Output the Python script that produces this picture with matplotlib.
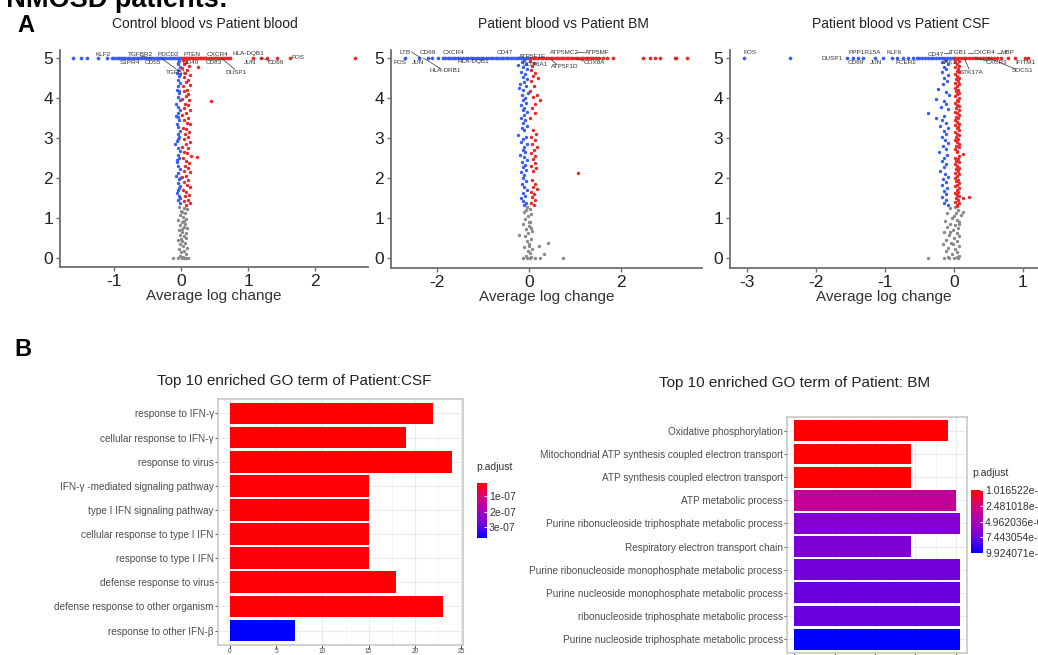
import numpy as np
import matplotlib.pyplot as plt
from matplotlib.colors import LinearSegmentedColormap, Normalize
from matplotlib.cm import ScalarMappable

plt.rcParams['font.family'] = ['Liberation Sans', 'DejaVu Sans']
plt.rcParams['axes.unicode_minus'] = False

# ---------------- data: volcano plots (avg log change, -log10 p capped at 5) ----------------
CAP = 5.0

# Control blood vs Patient blood
a1_blue = [(-0.03, 4.93), (-0.05, 4.85), (-0.02, 4.78), (-0.04, 4.70), (-0.06, 4.62), (-0.03, 4.55),
           (-0.05, 4.46), (-0.02, 4.38), (-0.04, 4.30), (-0.06, 4.21), (-0.03, 4.12), (-0.05, 4.03),
           (-0.02, 3.95), (-0.07, 3.86), (-0.04, 3.78), (-0.07, 3.55), (-0.05, 3.52), (-0.03, 3.44),
           (-0.06, 3.35), (-0.04, 3.27), (-0.02, 3.18), (-0.05, 3.10), (-0.03, 3.02), (-0.09, 2.86),
           (-0.06, 2.93), (-0.04, 2.76), (-0.02, 2.67), (-0.05, 2.58), (-0.03, 2.49), (-0.06, 2.40),
           (-0.04, 2.31), (-0.02, 2.22), (-0.05, 2.13), (-0.07, 2.05), (-0.03, 1.97), (-0.05, 1.88),
           (-0.02, 1.80), (-0.04, 1.71), (-0.06, 1.62), (-0.03, 1.54), (-0.05, 1.46), (-0.02, 1.38),
           (-0.01, 4.60), (-0.01, 3.70), (-0.02, 2.00), (-0.04, 4.88), (-0.03, 4.18), (-0.05, 3.62),
           (-0.04, 2.98), (-0.06, 2.45), (-0.03, 1.75), (-0.02, 1.50)]
a1_red = [(0.03, 4.95), (0.08, 4.90), (0.05, 4.84), (0.12, 4.80), (0.02, 4.75), (0.09, 4.71),
          (0.06, 4.63), (0.13, 4.58), (0.04, 4.53), (0.10, 4.45), (0.07, 4.41), (0.14, 4.33),
          (0.03, 4.29), (0.09, 4.21), (0.05, 4.17), (0.11, 4.09), (0.08, 4.05), (0.02, 3.97),
          (0.12, 3.94), (0.06, 3.86), (0.10, 3.82), (0.04, 3.74), (0.13, 3.70), (0.07, 3.62),
          (0.02, 3.58), (0.11, 3.50), (0.05, 3.46), (0.09, 3.38), (0.14, 3.34), (0.03, 3.26),
          (0.08, 3.22), (0.12, 3.14), (0.06, 3.10), (0.10, 3.02), (0.04, 2.98), (0.13, 2.90),
          (0.07, 2.86), (0.02, 2.78), (0.11, 2.74), (0.05, 2.66), (0.09, 2.62), (0.15, 2.54),
          (0.03, 2.50), (0.08, 2.42), (0.12, 2.38), (0.06, 2.30), (0.10, 2.26), (0.04, 2.18),
          (0.13, 2.14), (0.07, 2.06), (0.02, 2.02), (0.11, 1.94), (0.05, 1.90), (0.09, 1.82),
          (0.14, 1.78), (0.03, 1.70), (0.08, 1.66), (0.12, 1.58), (0.06, 1.54), (0.10, 1.46),
          (0.04, 1.42), (0.13, 1.37), (0.07, 1.33), (0.25, 4.77), (0.45, 3.92), (0.24, 2.52)]
a1_grey = [(-0.03, 1.28), (0.05, 1.25), (0.09, 1.22), (0.00, 1.18), (0.06, 1.12), (-0.02, 1.08),
           (0.03, 1.03), (0.08, 0.98), (-0.04, 0.94), (0.02, 0.90), (0.06, 0.86), (-0.01, 0.82),
           (0.04, 0.78), (0.09, 0.74), (-0.03, 0.70), (0.01, 0.66), (0.07, 0.62), (-0.02, 0.58),
           (0.04, 0.54), (0.08, 0.50), (-0.04, 0.46), (0.02, 0.42), (0.06, 0.38), (-0.01, 0.34),
           (0.03, 0.30), (0.09, 0.26), (-0.03, 0.22), (0.05, 0.18), (0.00, 0.14), (0.07, 0.10),
           (-0.02, 0.06), (0.03, 0.03), (0.08, 0.01), (-0.04, 0.00), (0.01, 0.00), (0.05, 0.00),
           (0.10, 0.00), (-0.12, 0.00), (0.02, 0.72), (0.00, 0.48), (0.05, 0.92), (0.01, 1.15)]
a1_blue_top = [-1.61, -1.50, -1.40, -1.24, -1.10, -1.03, -1.00, -0.96, -0.93, -0.90, -0.86, -0.83,
               -0.79, -0.76, -0.72, -0.69, -0.66, -0.62, -0.59, -0.55, -0.52, -0.48, -0.45, -0.42,
               -0.38, -0.35, -0.32, -0.28, -0.25, -0.22, -0.18, -0.15, -0.12, -0.09, -0.06, -0.04, -0.02]
a1_red_top = [0.02, 0.04, 0.07, 0.09, 0.12, 0.14, 0.17, 0.20, 0.22, 0.25, 0.28, 0.30, 0.33, 0.36,
              0.38, 0.41, 0.44, 0.47, 0.50, 0.52, 0.55, 0.58, 0.61, 0.64, 0.67, 0.70, 0.73,
              1.08, 1.20, 1.28, 1.43, 1.62, 2.60]

# Patient blood vs Patient BM
a2_blue = [(-0.10, 4.95), (-0.16, 4.90), (-0.06, 4.86), (-0.24, 4.83), (-0.12, 4.78), (-0.04, 4.72),
           (-0.18, 4.66), (-0.09, 4.60), (-0.14, 4.53), (-0.05, 4.47), (-0.11, 4.41), (-0.20, 4.35),
           (-0.07, 4.30), (-0.22, 4.25), (-0.13, 4.19), (-0.03, 4.13), (-0.16, 4.07), (-0.09, 4.01),
           (-0.12, 3.95), (-0.06, 3.88), (-0.18, 3.82), (-0.10, 3.76), (-0.14, 3.70), (-0.04, 3.64),
           (-0.11, 3.57), (-0.17, 3.50), (-0.08, 3.44), (-0.13, 3.38), (-0.05, 3.31), (-0.15, 3.25),
           (-0.10, 3.19), (-0.24, 3.08), (-0.07, 3.03), (-0.12, 2.97), (-0.17, 2.90), (-0.04, 2.84),
           (-0.10, 2.78), (-0.14, 2.71), (-0.08, 2.65), (-0.19, 2.58), (-0.11, 2.52), (-0.05, 2.46),
           (-0.15, 2.40), (-0.09, 2.33), (-0.13, 2.27), (-0.06, 2.20), (-0.17, 2.14), (-0.10, 2.07),
           (-0.12, 2.00), (-0.07, 1.93), (-0.16, 1.85), (-0.11, 1.77), (-0.05, 1.70), (-0.14, 1.63),
           (-0.09, 1.56), (-0.18, 1.50), (-0.12, 1.43), (-0.06, 1.37), (-0.10, 1.32)]
a2_red = [(0.03, 4.93), (0.10, 4.88), (0.06, 4.80), (0.20, 4.50), (0.13, 4.62), (0.04, 4.70),
          (0.08, 4.55), (0.17, 4.08), (0.24, 3.95), (0.05, 4.42), (0.11, 4.30), (0.03, 4.18),
          (0.09, 4.02), (0.14, 3.86), (0.06, 3.75), (0.12, 3.62), (0.03, 3.50), (0.08, 3.20),
          (0.15, 3.10), (0.05, 3.02), (0.12, 2.95), (0.07, 2.85), (0.17, 2.78), (0.10, 2.70),
          (0.04, 2.62), (0.14, 2.55), (0.08, 2.47), (0.12, 2.38), (0.05, 2.30), (0.16, 2.25),
          (0.09, 2.18), (1.07, 2.12), (0.06, 1.95), (0.13, 1.85), (0.09, 1.78), (0.17, 1.72),
          (0.04, 1.66), (0.11, 1.60), (0.07, 1.52), (0.14, 1.45), (0.05, 1.38), (0.10, 1.33)]
a2_grey = [(-0.05, 1.28), (0.02, 1.22), (-0.10, 1.16), (0.05, 1.10), (-0.03, 1.04), (-0.08, 0.97),
           (0.03, 0.91), (-0.12, 0.85), (0.00, 0.79), (-0.06, 0.73), (0.06, 0.67), (-0.02, 0.62),
           (-0.22, 0.58), (-0.09, 0.54), (0.04, 0.48), (-0.04, 0.42), (0.41, 0.37), (0.01, 0.36),
           (0.22, 0.30), (-0.11, 0.28), (0.07, 0.22), (-0.03, 0.17), (0.33, 0.10), (0.02, 0.12),
           (-0.07, 0.06), (0.05, 0.03), (-0.14, 0.00), (-0.05, 0.00), (0.03, 0.00), (0.12, 0.00),
           (0.24, 0.00), (0.74, 0.00), (0.00, 0.90), (-0.07, 1.20), (-0.01, 0.30), (0.04, 0.75)]
a2_blue_top = [-2.70, -2.40, -2.20, -2.10, -1.98, -1.87, -1.82, -1.77, -1.71, -1.66, -1.60, -1.55,
               -1.49, -1.44, -1.38, -1.33, -1.27, -1.22, -1.16, -1.11, -1.05, -1.00, -0.94, -0.89,
               -0.83, -0.78, -0.72, -0.67, -0.61, -0.56, -0.50, -0.45, -0.39, -0.34, -0.28, -0.23,
               -0.17, -0.12, -0.06, -0.02]
a2_red_top = [0.03, 0.08, 0.14, 0.19, 0.25, 0.30, 0.36, 0.41, 0.47, 0.52, 0.58, 0.63, 0.69, 0.74,
              0.80, 0.85, 0.91, 0.96, 1.02, 1.07, 1.13, 1.18, 1.24, 1.29, 1.35, 1.40, 1.46, 1.52,
              1.60, 1.70, 1.83, 2.48, 2.63, 2.74, 2.85, 3.17, 3.20, 3.43]

# Patient blood vs Patient CSF
a3_blue = [(-0.12, 4.95), (-0.18, 4.90), (-0.09, 4.85), (-0.15, 4.78), (-0.11, 4.72), (-0.17, 4.65),
           (-0.08, 4.58), (-0.14, 4.50), (-0.10, 4.43), (-0.16, 4.36), (-0.23, 4.22), (-0.12, 4.15),
           (-0.07, 4.08), (-0.26, 3.98), (-0.15, 3.92), (-0.11, 3.85), (-0.19, 3.78), (-0.09, 3.72),
           (-0.38, 3.62), (-0.14, 3.56), (-0.26, 3.50), (-0.17, 3.44), (-0.12, 3.37), (-0.20, 3.30),
           (-0.08, 3.24), (-0.15, 3.17), (-0.11, 3.10), (-0.18, 3.03), (-0.13, 2.95), (-0.09, 2.88),
           (-0.16, 2.80), (-0.12, 2.72), (-0.21, 2.65), (-0.10, 2.58), (-0.15, 2.50), (-0.18, 2.42),
           (-0.11, 2.35), (-0.14, 2.27), (-0.20, 2.18), (-0.13, 2.10), (-0.08, 2.03), (-0.16, 1.97),
           (-0.12, 1.90), (-0.18, 1.82), (-0.10, 1.75), (-0.15, 1.67), (-0.12, 1.60), (-0.17, 1.52),
           (-0.11, 1.45), (-0.14, 1.38), (-0.09, 1.32)]
a3_red = [(0.03, 4.97), (0.07, 4.93), (0.01, 4.89), (0.05, 4.85), (0.08, 4.81), (0.02, 4.77),
          (0.06, 4.72), (0.04, 4.68), (0.08, 4.64), (0.01, 4.60), (0.05, 4.55), (0.07, 4.51),
          (0.03, 4.47), (0.06, 4.43), (0.02, 4.38), (0.08, 4.34), (0.04, 4.30), (0.01, 4.26),
          (0.06, 4.21), (0.03, 4.17), (0.07, 4.13), (0.05, 4.09), (0.02, 4.04), (0.08, 4.00),
          (0.04, 3.96), (0.06, 3.92), (0.01, 3.87), (0.05, 3.83), (0.07, 3.79), (0.03, 3.75),
          (0.08, 3.70), (0.02, 3.66), (0.05, 3.62), (0.07, 3.58), (0.03, 3.53), (0.06, 3.49),
          (0.01, 3.45), (0.04, 3.41), (0.08, 3.36), (0.02, 3.32), (0.06, 3.28), (0.04, 3.24),
          (0.07, 3.19), (0.01, 3.15), (0.05, 3.11), (0.08, 3.07), (0.03, 3.02), (0.06, 2.98),
          (0.02, 2.94), (0.05, 2.90), (0.07, 2.85), (0.03, 2.81), (0.08, 2.77), (0.01, 2.73),
          (0.05, 2.68), (0.04, 2.64), (0.13, 2.60), (0.07, 2.56), (0.02, 2.51), (0.06, 2.47),
          (0.03, 2.43), (0.08, 2.39), (0.01, 2.34), (0.05, 2.30), (0.07, 2.26), (0.03, 2.22),
          (0.06, 2.17), (0.02, 2.13), (0.08, 2.09), (0.04, 2.05), (0.01, 2.00), (0.06, 1.96),
          (0.03, 1.92), (0.07, 1.88), (0.05, 1.83), (0.02, 1.79), (0.08, 1.75), (0.04, 1.71),
          (0.06, 1.66), (0.01, 1.62), (0.05, 1.58), (0.07, 1.54), (0.13, 1.50), (0.22, 1.52),
          (0.03, 1.49), (0.06, 1.45), (0.02, 1.41), (0.08, 1.37), (0.04, 1.33), (0.05, 1.30)]
a3_grey = [(0.02, 1.28), (-0.05, 1.24), (0.06, 1.20), (0.13, 1.15), (0.10, 1.08), (-0.10, 1.12),
           (0.00, 1.06), (-0.03, 1.00), (0.05, 0.96), (-0.13, 0.93), (0.08, 0.90), (-0.06, 0.86),
           (0.02, 0.82), (-0.10, 0.78), (0.06, 0.74), (-0.02, 0.70), (-0.14, 0.66), (0.04, 0.62),
           (-0.07, 0.58), (0.08, 0.54), (0.00, 0.50), (-0.11, 0.46), (0.05, 0.42), (-0.04, 0.38),
           (-0.16, 0.34), (0.07, 0.30), (-0.08, 0.26), (0.02, 0.22), (-0.12, 0.18), (0.05, 0.14),
           (-0.03, 0.10), (0.08, 0.06), (-0.09, 0.03), (-0.15, 0.00), (-0.07, 0.00), (0.00, 0.00),
           (0.06, 0.00), (-0.38, 0.00), (0.03, 1.12), (-0.01, 0.35), (0.04, 0.02), (-0.05, 0.64),
           (0.07, 0.84)]
a3_blue_top = [-3.05, -2.38, -1.55, -1.46, -1.39, -1.32, -1.14, -1.03, -0.90, -0.83, -0.74, -0.67,
               -0.60, -0.54, -0.50, -0.46, -0.42, -0.38, -0.34, -0.30, -0.26, -0.22, -0.18, -0.14,
               -0.10, -0.06, -0.02]
a3_red_top = [0.02, 0.06, 0.10, 0.14, 0.18, 0.22, 0.26, 0.30, 0.34, 0.38, 0.42, 0.46, 0.50, 0.54,
              0.58, 0.62, 0.69, 0.78, 0.88, 1.03, 1.07]

# gene labels (repelled text positions in data units)
a1_labels = [("KLF2", -1.16, 5.10), ("TGFBR2", -0.60, 5.10), ("PDCD2", -0.19, 5.10),
             ("PTEN", 0.16, 5.10), ("CXCR4", 0.54, 5.10), ("HLA-DQB1", 1.01, 5.10),
             ("FOS", 1.75, 5.02), ("S1PR4", -0.76, 4.90), ("CD55", -0.42, 4.88),
             ("CD40", 0.15, 4.88), ("CD83", 0.49, 4.88), ("JUN", 1.03, 4.88),
             ("CD69", 1.42, 4.88), ("TGFB1", -0.07, 4.65), ("DUSP1", 0.82, 4.65)]
a2_labels = [("LTB", -2.70, 5.15), ("CD69", -2.20, 5.15), ("CXCR4", -1.65, 5.15),
             ("CD47", -0.52, 5.15), ("ATP5F1E", 0.07, 5.05), ("ATP5MC2", 0.78, 5.15),
             ("ATP5MF", 1.48, 5.15), ("FOS", -2.80, 4.90), ("JUN", -2.41, 4.90),
             ("HLA-DQB1", -1.20, 4.90), ("COX6A1", 0.13, 4.83), ("ATP5F1D", 0.78, 4.80),
             ("COX8A", 1.43, 4.90), ("HLA-DRB1", -1.83, 4.68)]
a3_labels = [("FOS", -2.96, 5.13), ("PPP1R15A", -1.29, 5.13), ("KLF6", -0.87, 5.13),
             ("CD47", -0.26, 5.10), ("ITGB1", 0.06, 5.15), ("CXCR4", 0.45, 5.15),
             ("MBP", 0.77, 5.15), ("DUSP1", -1.77, 5.00), ("CD69", -1.42, 4.90),
             ("JUN", -1.13, 4.90), ("FCER2", -0.70, 4.90), ("JAK1", -0.06, 4.90),
             ("CXCR3", 0.61, 4.90), ("IFITM1", 1.04, 4.90), ("STK17A", 0.26, 4.65),
             ("SOCS1", 0.99, 4.68)]
a1_segments = [((-0.30, 5.0), (-0.07, 4.72)), ((0.60, 5.0), (0.80, 4.72)),
               ((1.20, 5.0), (1.33, 4.92)), ((-0.45, 5.0), (-0.60, 5.05))]
a2_segments = [((-2.55, 5.15), (-2.35, 5.0)), ((-2.30, 5.0), (-1.90, 4.72)),
               ((1.05, 5.15), (1.20, 5.15)), ((1.00, 5.0), (1.20, 4.92)), ((0.45, 5.0), (0.60, 4.84))]
a3_segments = [((-0.14, 5.12), (-0.05, 5.12)), ((0.20, 5.13), (0.28, 5.13)),
               ((0.62, 5.13), (0.68, 5.13)), ((0.15, 5.0), (0.22, 4.72)),
               ((0.50, 5.0), (0.90, 4.72)), ((0.30, 5.0), (0.48, 4.93))]

# ---------------- data: GO enrichment ----------------
csf_terms = ["response to IFN-\u03b3", "cellular response to IFN-\u03b3", "response to virus",
             "IFN-\u03b3 -mediated signaling pathway", "type I IFN signaling pathway",
             "cellular response to type I IFN", "response to type I IFN",
             "defense response to virus", "defense response to other organism",
             "response to other IFN-\u03b2"]
csf_counts = [22, 19, 24, 15, 15, 15, 15, 18, 23, 7]
csf_padj = [1.8e-8, 1.7e-8, 1.6e-8, 2.0e-8, 2.1e-8, 2.2e-8, 2.4e-8, 2.0e-8, 1.9e-8, 3.7e-7]

bm_terms = ["Oxidative phosphorylation", "Mitochondrial ATP synthesis coupled electron transport",
            "ATP synthesis coupled electron transport", "ATP metabolic process",
            "Purine ribonucleoside triphosphate metabolic process",
            "Respiratory electron transport chain",
            "Purine ribonucleoside monophosphate metabolic process",
            "Purine nucleoside monophosphate metabolic process",
            "ribonucleoside triphosphate metabolic process",
            "Purine nucleoside triphosphate metabolic process"]
bm_counts = [38, 29, 29, 40, 41, 29, 41, 41, 41, 41]
bm_padj = [1.016522e-15, 2.0e-9, 2.0e-9, 3.6e-6, 6.6e-6, 7.0e-6, 7.5e-6, 7.6e-6, 7.6e-6, 9.924071e-6]
bm_breaks = [1.016522e-15, 2.481018e-6, 4.962036e-6, 7.443054e-6, 9.924071e-6]
bm_break_labels = ["1.016522e-15", "2.481018e-06", "4.962036e-06", "7.443054e-06", "9.924071e-06"]

BLUE, RED, GREY = '#3B5CF2', '#E8282B', '#8A8A8A'
padj_cmap = LinearSegmentedColormap.from_list(
    'padj', ['#FF0000', '#D8007A', '#A800B8', '#7400DC', '#0000FF'])

W, H = 1038, 655


def rect(l, t, r, b):
    return [l / W, 1 - b / H, (r - l) / W, (b - t) / H]


fig = plt.figure(figsize=(W / 100, H / 100), dpi=100)


def volcano(box, blue, red, grey, blue_top, red_top, labels, segments, xlim, ylim, xticks, title, title_x):
    ax = fig.add_axes(rect(*box))
    for pts, c in ((grey, GREY), (blue, BLUE), (red, RED)):
        x, y = zip(*pts)
        ax.scatter(x, y, s=6, c=c, lw=0, zorder=2)
    ax.scatter(blue_top, [CAP] * len(blue_top), s=7, c=BLUE, lw=0, zorder=2)
    ax.scatter(red_top, [CAP] * len(red_top), s=7, c=RED, lw=0, zorder=2)
    for (x0, y0), (x1, y1) in segments:
        ax.plot([x0, x1], [y0, y1], color='#333333', lw=0.5, zorder=3)
    for name, tx, ty in labels:
        ax.text(tx, ty, name, fontsize=4.6, color='#333333', ha='center', va='center',
                zorder=4, clip_on=False)
    ax.set_xlim(*xlim)
    ax.set_ylim(*ylim)
    ax.set_xticks(xticks)
    ax.set_yticks([0, 1, 2, 3, 4, 5])
    for s in ('top', 'right'):
        ax.spines[s].set_visible(False)
    for s in ('left', 'bottom'):
        ax.spines[s].set_color('#6E6E6E')
        ax.spines[s].set_linewidth(1.3)
    ax.tick_params(labelsize=12.5, colors='#6E6E6E', labelcolor='#222222', length=3, width=1, pad=2)
    ax.set_xlabel('Average log change', fontsize=11, color='#333333', labelpad=0)
    ax.patch.set_alpha(0)
    fig.text(title_x / W, 1 - 24 / H, title, fontsize=10, color='#222222', ha='center', va='center')
    return ax


volcano((60, 50, 368, 267), a1_blue, a1_red, a1_grey, a1_blue_top, a1_red_top, a1_labels, a1_segments,
        (-1.806, 2.79), (-0.225, 5.2), [-1, 0, 1, 2], 'Control blood vs Patient blood', 205)
volcano((391, 50, 702, 268), a2_blue, a2_red, a2_grey, a2_blue_top, a2_red_top, a2_labels, a2_segments,
        (-3.0, 3.76), (-0.25, 5.2), [-2, 0, 2], 'Patient blood vs Patient BM', 563)
volcano((730, 50, 1038, 268), a3_blue, a3_red, a3_grey, a3_blue_top, a3_red_top, a3_labels, a3_segments,
        (-3.25, 1.22), (-0.25, 5.2), [-3, -2, -1, 0, 1], 'Patient blood vs Patient CSF', 901)


def go_panel(box, terms, counts, padj, norm, xlim, xticks, show_xlabels, title, title_xy):
    ax = fig.add_axes(rect(*box))
    pos = np.arange(len(terms))[::-1] + 1
    ax.barh(pos, counts, height=0.9, color=padj_cmap(norm(np.array(padj))), zorder=2)
    ax.set_yticks(pos, terms)
    ax.set_ylim(0.4, len(terms) + 0.6)
    ax.set_xlim(*xlim)
    ax.set_xticks(xticks)
    if not show_xlabels:
        ax.set_xticklabels([])
    step = xticks[1] - xticks[0]
    ax.set_xticks([t + step / 2 for t in xticks[:-1]], minor=True)
    ax.grid(True, which='major', color='#EBEBEB', lw=0.8, zorder=0)
    ax.grid(True, which='minor', axis='x', color='#F4F4F4', lw=0.6, zorder=0)
    ax.set_axisbelow(True)
    for s in ax.spines.values():
        s.set_color('#C4C4C4')
        s.set_linewidth(1.1)
    ax.tick_params(axis='y', labelsize=7.2, labelcolor='#4D4D4D', colors='#555555', length=2, pad=1)
    ax.tick_params(axis='x', labelsize=4.8, labelcolor='#4D4D4D', colors='#555555', length=2, pad=0.5)
    ax.tick_params(which='minor', length=0)
    fig.text(title_xy[0] / W, 1 - title_xy[1] / H, title, fontsize=11, color='#222222',
             ha='center', va='center')
    return ax


def padj_bar(box, norm, ticks, ticklabels, title_xy):
    cax = fig.add_axes(rect(*box))
    cb = fig.colorbar(ScalarMappable(norm=norm, cmap=padj_cmap), cax=cax)
    cb.outline.set_visible(False)
    cax.invert_yaxis()
    cb.set_ticks(ticks)
    cb.set_ticklabels(ticklabels)
    cax.tick_params(labelsize=7.5, labelcolor='#333333', colors='white', length=2, width=0.8,
                    direction='in', pad=1.5)
    fig.text(title_xy[0] / W, 1 - title_xy[1] / H, 'p.adjust', fontsize=7.5, color='#333333',
             ha='left', va='center')


csf_norm = Normalize(vmin=min(csf_padj), vmax=max(csf_padj))
go_panel((218, 399, 463, 645), csf_terms, csf_counts, csf_padj, csf_norm, (-1.3, 25.2),
         [0, 5, 10, 15, 20, 25], True, 'Top 10 enriched GO term of Patient:CSF', (294, 381))
padj_bar((477, 483, 487, 538), csf_norm, [1e-7, 2e-7, 3e-7], ['1e-07', '2e-07', '3e-07'], (476, 467))

bm_norm = Normalize(vmin=min(bm_padj), vmax=max(bm_padj))
go_panel((787, 417, 967, 653), bm_terms, bm_counts, bm_padj, bm_norm, (-1.8, 42.8),
         [0, 10, 20, 30, 40], False, 'Top 10 enriched GO term of Patient: BM', (795, 383))
padj_bar((971, 490, 983, 553), bm_norm, bm_breaks, bm_break_labels, (972, 473))

# panel letters and header (header is cropped by the top edge, as in the source figure)
fig.text(26 / W, 1 - 26 / H, 'A', fontsize=17, fontweight='bold', ha='center', va='center')
fig.text(23 / W, 1 - 349 / H, 'B', fontsize=17, fontweight='bold', ha='center', va='center')
fig.text(228 / W, 1 - 7 / H, 'of NMOSD patients:', fontsize=19.5, fontweight='bold',
         ha='right', va='baseline')

fig.savefig('out.png', dpi=100)
